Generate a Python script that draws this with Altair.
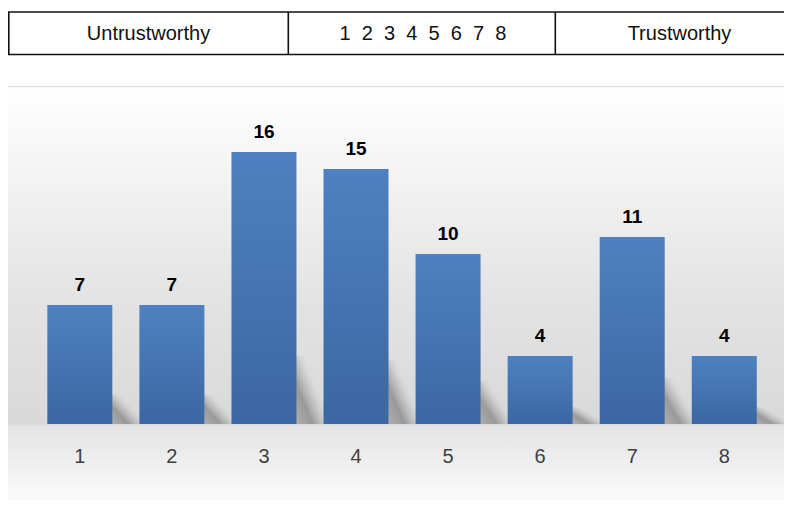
import altair as alt
import pandas as pd

# ---- data ----
categories = ["1", "2", "3", "4", "5", "6", "7", "8"]
values = [7, 7, 16, 15, 10, 4, 11, 4]
header_left = "Untrustworthy"
header_mid = "\u00a0 ".join(categories)
header_right = "Trustworthy"

df = pd.DataFrame({"cat": categories, "value": values})
one = pd.DataFrame({"k": [0]})

W, H = 776, 492
FONT = "Liberation Sans"

x_scale = alt.Scale(domain=categories, range=[25.8, 762.3], paddingInner=0.294, paddingOuter=0.147)
y_scale = alt.Scale(domain=[0, 24], range=[416, 8], nice=False, zero=True)

# panel background with vertical gradient (lighter "floor" below the bars)
bg = alt.Chart(one).mark_rect(
    fill=alt.Gradient(
        gradient="linear", x1=0, x2=0, y1=0, y2=1,
        stops=[
            alt.GradientStop(offset=0.0, color="#ffffff"),
            alt.GradientStop(offset=0.245, color="#f0f0f0"),
            alt.GradientStop(offset=0.46, color="#e3e3e3"),
            alt.GradientStop(offset=0.731, color="#d9d9d9"),
            alt.GradientStop(offset=0.737, color="#e4e4e4"),
            alt.GradientStop(offset=0.81, color="#eeeeee"),
            alt.GradientStop(offset=0.875, color="#f8f8f8"),
            alt.GradientStop(offset=0.92, color="#fdfdfd"),
            alt.GradientStop(offset=1.0, color="#ffffff"),
        ],
    ),
    stroke="#d6d6d6", strokeWidth=1,
).encode(x=alt.value(-0.5), x2=alt.value(820), y=alt.value(78.7), y2=alt.value(540))

# header table
box = alt.Chart(one).mark_rect(fillOpacity=0, stroke="#111111", strokeWidth=1.6).encode(
    x=alt.value(0.8), x2=alt.value(820), y=alt.value(4), y2=alt.value(46.5)
)
div1 = alt.Chart(one).mark_rule(stroke="#111111", strokeWidth=1.6).encode(
    x=alt.value(280.3), y=alt.value(4), y2=alt.value(46.5)
)
div2 = alt.Chart(one).mark_rule(stroke="#111111", strokeWidth=1.6).encode(
    x=alt.value(547.3), y=alt.value(4), y2=alt.value(46.5)
)

def htext(txt, xpos):
    return alt.Chart(one).mark_text(
        text=txt, font=FONT, fontSize=20, color="#111111", align="center", baseline="alphabetic"
    ).encode(x=alt.value(xpos), y=alt.value(31.5))

h1 = htext(header_left, 140.5)
h2 = htext(header_mid, 415)
h3 = htext(header_right, 671.5)

X = alt.X("cat:N", scale=x_scale, axis=None, sort=categories)
Y = alt.Y("value:Q", scale=y_scale, axis=None)

shadows = alt.Chart(df).transform_calculate(sh="datum.value * 0.25").mark_bar(
    width=28, xOffset=46,
    fill=alt.Gradient(
        gradient="linear", x1=0, y1=1, x2=1, y2=0,
        stops=[
            alt.GradientStop(offset=0.0, color="rgba(170,170,170,0.9)"),
            alt.GradientStop(offset=0.3, color="rgba(150,150,150,0.95)"),
            alt.GradientStop(offset=0.48, color="rgba(180,180,180,0.6)"),
            alt.GradientStop(offset=0.68, color="rgba(218,218,218,0)"),
        ],
    ),
).encode(x=X, y=alt.Y("sh:Q", scale=y_scale, axis=None))

bars = alt.Chart(df).mark_bar(
    fill=alt.Gradient(
        gradient="linear", x1=0, x2=0, y1=0, y2=1,
        stops=[
            alt.GradientStop(offset=0, color="#4e81c1"),
            alt.GradientStop(offset=1, color="#3b67a3"),
        ],
    )
).encode(x=X, y=Y)

labels = alt.Chart(df).mark_text(
    dy=-14, baseline="alphabetic", align="center", font=FONT, fontSize=19,
    fontWeight="bold", color="#000000"
).encode(x=X, y=Y, text="value:Q")

xlabels = alt.Chart(df).mark_text(
    baseline="alphabetic", align="center", font=FONT, fontSize=20, color="#404040"
).encode(x=X, y=alt.value(455), text="cat:N")

chart = alt.layer(bg, box, div1, div2, h1, h2, h3, shadows, bars, labels, xlabels).properties(
    width=W, height=H, padding=0, autosize="none", background="white"
).configure_view(stroke=None)

chart.save("out.html", embed_options={"renderer": "svg", "actions": False})
